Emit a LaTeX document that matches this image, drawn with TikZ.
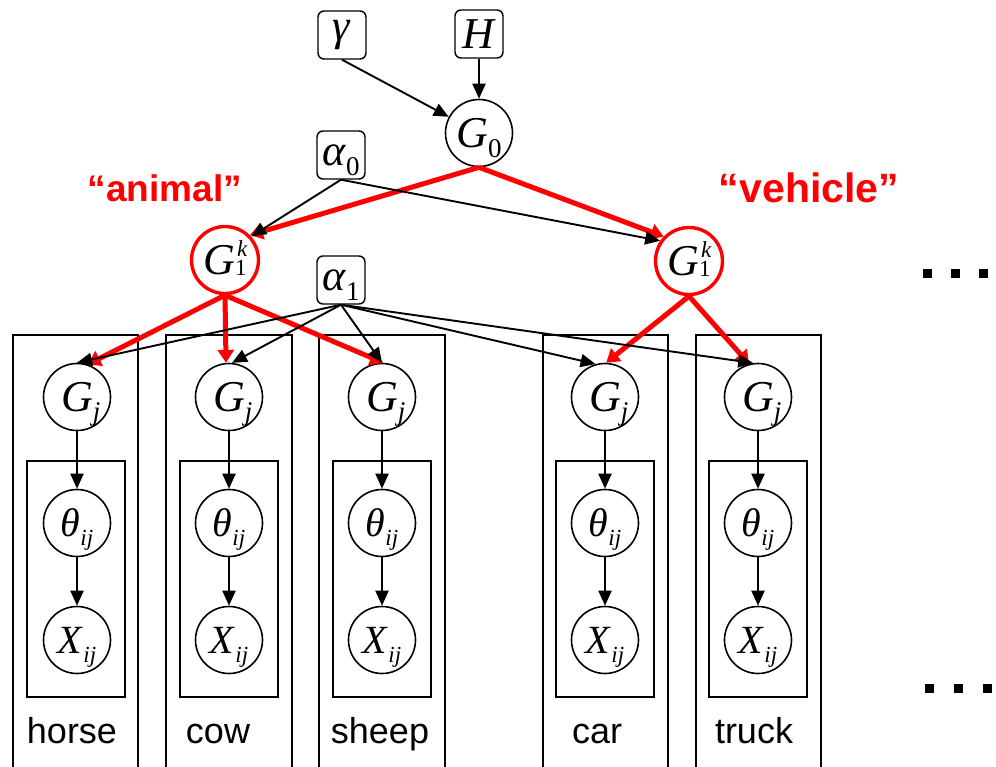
\documentclass[tikz,border=0pt]{standalone}
\usepackage{fontspec}
\setmainfont{Liberation Serif}
\newfontfamily\lsans{Liberation Sans}
\usetikzlibrary{arrows.meta}
\newcommand{\bigf}{\fontsize{44}{44}\selectfont}
\newcommand{\midf}{\fontsize{40}{40}\selectfont}
\newcommand{\subf}{\fontsize{27}{27}\selectfont}
\newcommand{\smf}{\fontsize{23}{23}\selectfont}
\newcommand{\lowsub}[2]{\smash{\raisebox{#1}{#2}}}
\begin{document}
\begin{tikzpicture}[x=1pt,y=-1pt,
  var/.style={circle,draw,line width=1.6pt,minimum size=67pt,inner sep=0pt},
  redvar/.style={var,draw=red,line width=3.4pt},
  param/.style={draw,rounded corners=6pt,line width=1.4pt,minimum size=48pt,inner sep=0pt},
  arr/.style={-{Triangle[length=15pt,width=13pt]},line width=1.9pt},
  redarr/.style={-{Triangle[length=13pt,width=16pt]},line width=5pt,draw=red,fill=red},
  plate/.style={draw,line width=1.4pt},
  catlbl/.style={font=\lsans\fontsize{36}{36}\selectfont,anchor=base,inner sep=0pt},
  redlbl/.style={font=\lsans\bfseries\fontsize{37}{37}\selectfont,text=red,anchor=base,inner sep=0pt}
]
\useasboundingbox (0,0) rectangle (996,766);
\clip (0,0) rectangle (996,766);

% plates
\foreach \xl/\xr/\il/\ir in {13/138/27/125, 166/292/180/278, 319/445/333/431, 543/668/556/654, 696/821/709/807}{
  \draw[plate] (\xl,790) -- (\xl,335) -- (\xr,335) -- (\xr,790);
  \draw[plate] (\il,461) rectangle (\ir,697);
}

% top parameters
\node[param] (gamma) at (342,35) {\bigf\textit{γ}};
\node[param] (H) at (479,34) {\bigf\textit{H}};
\node[var] (G0) at (479,133) {\bigf\textit{G}\lowsub{-10pt}{\subf 0}};
\node[param] (a0) at (341,155) {\bigf\textit{α}\lowsub{-10pt}{\subf 0}};
\node[param] (a1) at (341,280) {\bigf\textit{α}\lowsub{-10pt}{\subf 1}};

\node[redvar] (G1a) at (225,260) {\bigf\textit{G}\rlap{\lowsub{18pt}{\smf\kern2pt\textit{k}}}\lowsub{-1pt}{\smf 1}};
\node[redvar] (G1v) at (689,261) {\bigf\textit{G}\rlap{\lowsub{18pt}{\smf\kern2pt\textit{k}}}\lowsub{-1pt}{\smf 1}};

\node[redlbl] (lanimal) at (165,201) {“animal”};
\node[redlbl,font=\lsans\bfseries\fontsize{41}{41}\selectfont] (lvehicle) at (809,202) {“vehicle”};

% group nodes
\foreach \n/\x in {h/77, c/229, s/382, r/605, t/758}{
  \node[var] (G\n) at (\x,397) {\bigf\textit{G}\rlap{\lowsub{-9pt}{\subf\textit{j}}}};
  \node[var] (T\n) at (\x,523) {\midf\textit{θ}\lowsub{-9pt}{\smf\textit{ij}}};
  \node[var] (X\n) at (\x,640) {\midf\textit{X}\lowsub{-9pt}{\smf\textit{ij}}};
  \draw[arr] (G\n) -- (T\n);
  \draw[arr] (T\n) -- (X\n);
}
\node[catlbl] (Lh) at (72,743) {horse};
\node[catlbl] (Lc) at (218,743) {cow};
\node[catlbl] (Ls) at (380,743) {sheep};
\node[catlbl] (Lr) at (597,743) {car};
\node[catlbl] (Lt) at (754,743) {truck};

% red arrows
\draw[redarr] (G0.south) -- (G1a.45);
\draw[redarr] (G0.south) -- (G1v.136);
\draw[redarr] (G1a.south) -- (Gh.72);
\draw[redarr] (G1a.south) -- (Gc.95);
\draw[redarr] (G1a.south) -- (Gs.88);
\draw[redarr] (G1v.south) -- (Gr.88);
\draw[redarr] (G1v.south) -- (Gt.105);

% black arrows
\draw[arr] (gamma.south) -- (G0);
\draw[arr] (H.south) -- (G0.north);
\draw[arr] (a0.south) -- (G1a.42);
\draw[arr] (a0.south) -- (G1v.145);
\draw[arr] (a1.south) -- (Gh.north);
\draw[arr] (a1.south) -- (Gc.85);
\draw[arr] (a1.south) -- (Gs.north);
\draw[arr] (a1.south) -- (Gr.106);
\draw[arr] (a1.south) -- (Gt.98);

% ellipsis dots
\foreach \x/\y in {927/273, 955/273, 983/273, 929/688, 958/688, 987/688}{
  \fill (\x-4.5,\y-4.5) rectangle (\x+4.5,\y+4.5);
}
\end{tikzpicture}
\end{document}
